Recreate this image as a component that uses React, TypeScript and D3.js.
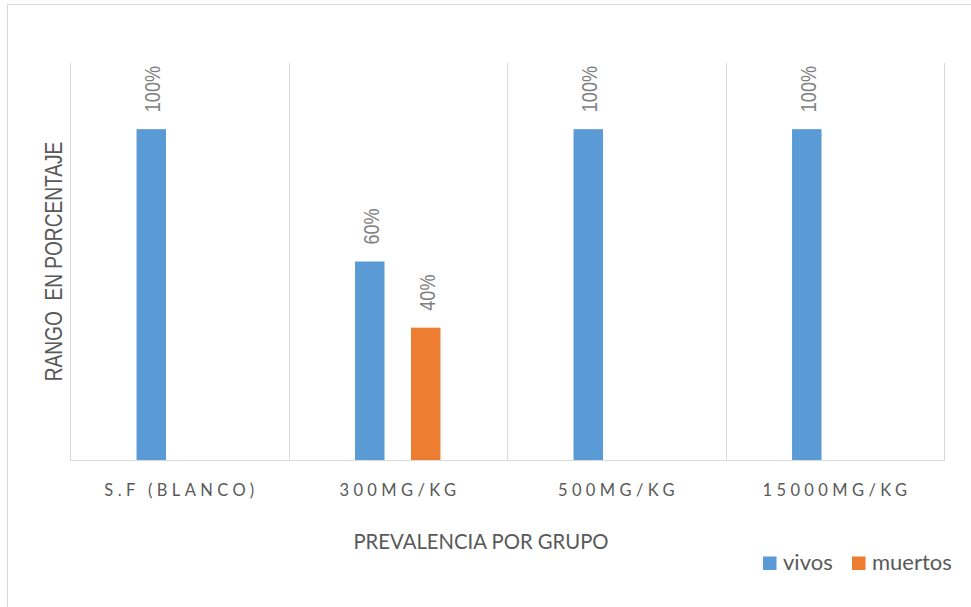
import React, { useEffect, useRef } from 'react';
import * as d3 from 'd3';

const categories = ['S.F (BLANCO)', '300MG/KG', '500MG/KG', '15000MG/KG'];
const seriesNames = ['vivos', 'muertos'];
const vivos = [1, 0.6, 1, 1];
const muertos = [0, 0.4, 0, 0];
const seriesColors = ['#5B9BD5', '#ED7D31'];

const App = () => {
    const svgRef = useRef<SVGSVGElement>(null);

    useEffect(() => {
        const svgWidth = 971;
        const svgHeight = 607;
        const plot = { left: 70, right: 944, top: 63, bottom: 460 };
        const gridColor = '#d9d9d9';
        const textColor = '#595959';
        const calibri = "Lato, 'Open Sans', sans-serif";
        const arial = "'Liberation Sans', Arial, sans-serif";

        const svg = d3.select(svgRef.current)
            .attr('width', svgWidth)
            .attr('height', svgHeight)
            .html('');

        // chart area border (right / bottom edges fall outside the picture)
        svg.append('rect')
            .attr('x', 7.5).attr('y', 4.5)
            .attr('width', 1000).attr('height', 700)
            .attr('fill', '#fff')
            .attr('stroke', gridColor);

        const x = d3.scaleBand<string>()
            .domain(categories)
            .range([plot.left, plot.right])
            .padding(0);

        const bw = x.bandwidth();
        const inner = d3.scaleBand<string>()
            .domain(seriesNames)
            .range([bw * 0.3045, bw * 0.6955])
            .paddingInner(0.473);

        const y = d3.scaleLinear()
            .domain([0, 1.2])
            .range([plot.bottom, plot.top]);

        // vertical gridlines at category boundaries
        const edges = categories.map(c => x(c) as number).concat([plot.right]);
        svg.append('g')
            .selectAll('line')
            .data(edges)
            .enter()
            .append('line')
            .attr('x1', d => Math.round(d) + 0.5).attr('x2', d => Math.round(d) + 0.5)
            .attr('y1', plot.top).attr('y2', plot.bottom)
            .attr('stroke', gridColor)
            .attr('stroke-width', 1);

        // category axis
        svg.append('line')
            .attr('x1', plot.left).attr('x2', plot.right + 1)
            .attr('y1', plot.bottom + 0.5).attr('y2', plot.bottom + 0.5)
            .attr('stroke', gridColor)
            .attr('stroke-width', 1.2);

        const spacing = 4.4;
        svg.append('g')
            .selectAll('text')
            .data(categories)
            .enter()
            .append('text')
            .attr('x', d => (x(d) as number) + bw / 2 + spacing / 2)
            .attr('y', 496)
            .attr('text-anchor', 'middle')
            .attr('fill', textColor)
            .style('font-family', calibri)
            .style('font-size', '16.5px')
            .style('letter-spacing', `${spacing}px`)
            .text(d => d);

        // bars
        const series = [vivos, muertos];
        const rows = series.flatMap((vals, s) =>
            vals.map((v, i) => ({ cat: categories[i], name: seriesNames[s], color: seriesColors[s], value: v }))
        ).filter(d => d.value > 0);

        const barX = (d: { cat: string; name: string }) => (x(d.cat) as number) + (inner(d.name) as number);

        svg.append('g')
            .selectAll('rect')
            .data(rows)
            .enter()
            .append('rect')
            .attr('x', barX)
            .attr('y', d => y(d.value))
            .attr('width', inner.bandwidth())
            .attr('height', d => y(0) - y(d.value))
            .attr('fill', d => d.color);

        // rotated data labels
        svg.append('g')
            .selectAll('text')
            .data(rows)
            .enter()
            .append('text')
            .attr('transform', d =>
                `translate(${barX(d) + inner.bandwidth() / 2 + 9},${y(d.value) - 17}) rotate(-90) scale(0.82,1)`)
            .attr('text-anchor', 'start')
            .attr('fill', '#808080')
            .style('font-family', arial)
            .style('font-size', '22px')
            .text(d => d3.format('.0%')(d.value));

        // axis titles
        svg.append('text')
            .attr('transform', `translate(61.5,${(plot.top + plot.bottom) / 2}) rotate(-90) scale(0.82,1)`)
            .attr('text-anchor', 'middle')
            .attr('fill', textColor)
            .style('font-family', arial)
            .style('font-size', '23.3px')
            .style('white-space', 'pre')
            .text('RANGO  EN PORCENTAJE');

        svg.append('text')
            .attr('x', 481)
            .attr('y', 549)
            .attr('text-anchor', 'middle')
            .attr('fill', textColor)
            .style('font-family', calibri)
            .style('font-size', '20.3px')
            .text('PREVALENCIA POR GRUPO');

        // legend
        const legendX = d3.scaleOrdinal<string, number>()
            .domain(seriesNames)
            .range([763, 852]);

        const legendItems = svg.append('g')
            .selectAll('g')
            .data(seriesNames)
            .enter()
            .append('g')
            .attr('transform', d => `translate(${legendX(d)},556.5)`);

        legendItems.append('rect')
            .attr('width', 13.5).attr('height', 13.5)
            .attr('fill', (d, i) => seriesColors[i]);

        legendItems.append('text')
            .attr('x', 20)
            .attr('y', 13.5)
            .attr('fill', textColor)
            .style('font-family', calibri)
            .style('font-size', '22px')
            .text(d => d);
    }, []);

    return (
        <svg
            ref={svgRef}
            style={{ position: 'absolute', left: 0, top: 0, display: 'block', background: '#fff' }}
        />
    );
};

export default App;
